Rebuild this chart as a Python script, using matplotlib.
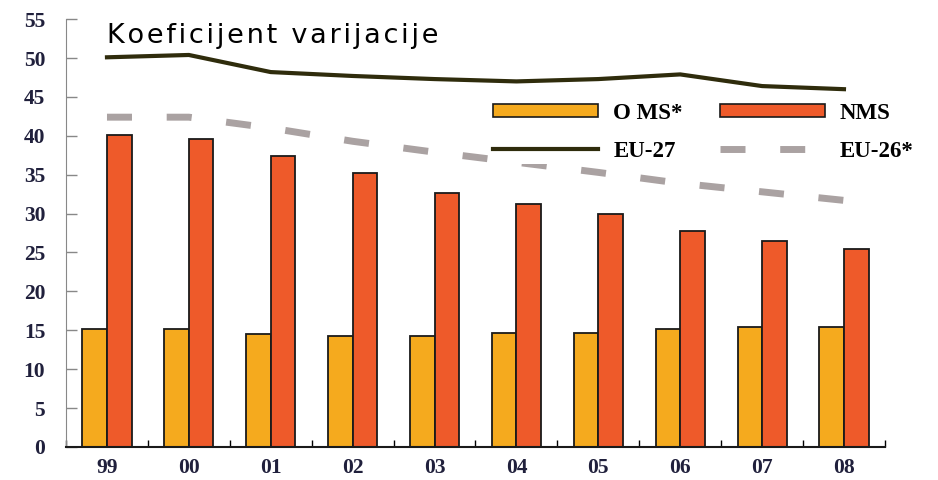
import numpy as np
import matplotlib.pyplot as plt
from matplotlib.patches import Patch
from matplotlib.lines import Line2D

years = ['99', '00', '01', '02', '03', '04', '05', '06', '07', '08']
oms = [15.2, 15.2, 14.5, 14.2, 14.2, 14.7, 14.7, 15.1, 15.4, 15.4]
nms = [40.1, 39.6, 37.4, 35.2, 32.6, 31.2, 29.9, 27.8, 26.5, 25.4]
eu27 = [50.1, 50.4, 48.2, 47.7, 47.3, 47.0, 47.3, 47.9, 46.4, 46.0]
eu26 = [42.4, 42.4, 41.0, 39.3, 37.9, 36.6, 35.3, 33.9, 32.8, 31.7]

c_oms = '#f5aa1e'
c_nms = '#ee5a2a'
c_eu27 = '#2f2c0c'
c_eu26 = '#aaa2a2'
tick_col = '#20203c'
serif = ['Liberation Serif', 'DejaVu Serif']


def spaced(s, sp='\u200a'):
    # the original picture is stretched sideways, fake it with hair spaces
    return sp.join(s)


fig = plt.figure(figsize=(9.38, 4.8), dpi=100)
ax = fig.add_axes([0.0704, 0.069, 0.873, 0.891])

x = np.arange(len(years))
w = 0.3
ax.bar(x - w/2, oms, w, color=c_oms, edgecolor='#1a1a1a', linewidth=1.3, zorder=2)
ax.bar(x + w/2, nms, w, color=c_nms, edgecolor='#1a1a1a', linewidth=1.3, zorder=2)
ax.plot(x, eu27, color=c_eu27, lw=3, zorder=3)
ax.plot(x, eu26, color=c_eu26, lw=5, dashes=(3.6, 5), zorder=3)

ax.set_xlim(-0.5, len(years) - 0.5)
ax.set_ylim(0, 55)
yt = np.arange(0, 56, 5)
ax.set_yticks(yt)
ax.set_yticklabels([str(v) for v in yt], fontfamily=serif,
                   fontweight='bold', fontsize=15.5, color=tick_col)
ax.tick_params(axis='y', direction='in', length=8, width=1, color='#888888', pad=15)

# group boundaries as small ticks, labels at group centres
ax.set_xticks(np.arange(-0.5, len(years), 1))
ax.set_xticklabels([])
ax.set_xticks(x, minor=True)
ax.set_xticklabels(years, minor=True, fontfamily=serif,
                   fontweight='bold', fontsize=15.5, color=tick_col)
ax.tick_params(axis='x', which='major', direction='in', length=5, width=1)
ax.tick_params(axis='x', which='minor', length=0, pad=8)

ax.spines['top'].set_visible(False)
ax.spines['right'].set_visible(False)
ax.spines['left'].set_color('#888888')
ax.spines['bottom'].set_color('#1a1a1a')
ax.spines['bottom'].set_linewidth(1.5)

ax.text(0.05, 0.99, spaced('Koeficijent varijacije'), transform=ax.transAxes,
        fontsize=19.5, fontfamily='DejaVu Sans', va='top', ha='left')

handles = [Patch(facecolor=c_oms, edgecolor='#1a1a1a', linewidth=1.2),
           Line2D([], [], color=c_eu27, lw=3),
           Patch(facecolor=c_nms, edgecolor='#1a1a1a', linewidth=1.2),
           Line2D([], [], color=c_eu26, lw=5, dashes=(3.6, 5))]
labels = ['O MS*', 'EU-27', 'NMS', 'EU-26*']
fig.legend(handles, labels, ncol=2, loc='upper left', bbox_to_anchor=(0.511, 0.815),
           frameon=True, facecolor='white', edgecolor='none', framealpha=1,
           borderpad=0.1, handlelength=4.6, handleheight=0.55, handletextpad=0.65,
           columnspacing=1.6, labelspacing=0.75,
           prop={'family': serif, 'weight': 'bold', 'size': 16.5})

fig.savefig('out.png', dpi=100)
